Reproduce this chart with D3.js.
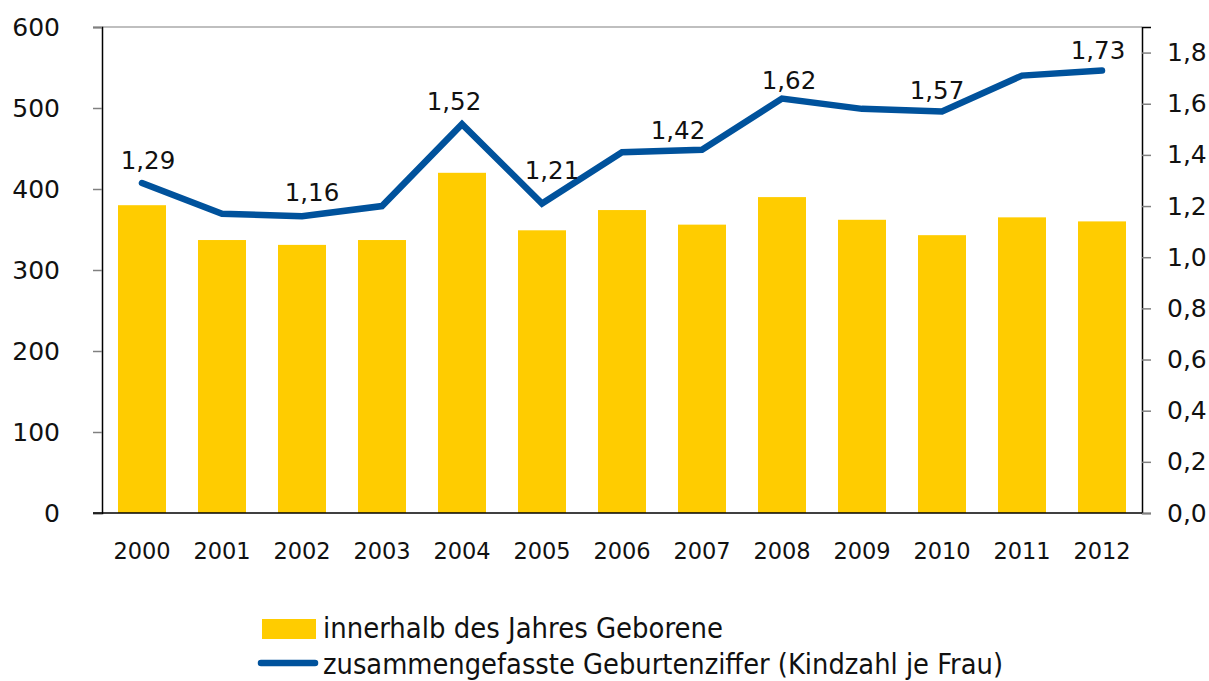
<!DOCTYPE html>
<html>
<head>
<meta charset="utf-8">
<script src="https://cdn.jsdelivr.net/npm/d3@7"></script>
<style>
  html, body { margin: 0; padding: 0; background: #fff; }
  svg { display: block; }
  text { font-family: "DejaVu Sans", sans-serif; fill: #111; }
</style>
</head>
<body>
<svg id="chart" width="1209" height="681"></svg>
<script>
// ---- data ----
const years = ["2000","2001","2002","2003","2004","2005","2006","2007","2008","2009","2010","2011","2012"];
const births = [380, 337, 331, 337, 420, 349, 374, 356, 390, 362, 343, 365, 360];
const fertility = [1.29, 1.17, 1.16, 1.20, 1.52, 1.21, 1.41, 1.42, 1.62, 1.58, 1.57, 1.71, 1.73];
const labelledYears = ["2000","2002","2004","2005","2007","2008","2010","2012"];
const leftTicks = [0, 100, 200, 300, 400, 500, 600];
const rightTicks = [0, 0.2, 0.4, 0.6, 0.8, 1.0, 1.2, 1.4, 1.6, 1.8];
const legendLabels = ["innerhalb des Jahres Geborene", "zusammengefasste Geburtenziffer (Kindzahl je Frau)"];

// ---- layout ----
const plot = { left: 102, right: 1142, top: 27, bottom: 513 };
const barColor = "#FFCC00", lineColor = "#00529C";

const svg = d3.select("#chart");

const x = d3.scaleBand().domain(years).range([plot.left, plot.right]).paddingInner(0.4).paddingOuter(0.2);
const yL = d3.scaleLinear().domain([0, 600]).range([plot.bottom, plot.top]);
const yR = d3.scaleLinear().domain([0, 1.9]).range([plot.bottom, plot.top]);

// top frame line
svg.append("line")
  .attr("x1", plot.left).attr("x2", plot.right)
  .attr("y1", plot.top).attr("y2", plot.top)
  .attr("stroke", "#808080").attr("stroke-width", 1.2);

// bars
svg.append("g").selectAll("rect").data(years).join("rect")
  .attr("x", d => x(d))
  .attr("width", x.bandwidth())
  .attr("y", (d, i) => yL(births[i]))
  .attr("height", (d, i) => yL(0) - yL(births[i]))
  .attr("fill", barColor);

// left axis
const gL = svg.append("g").attr("transform", `translate(${plot.left},0)`)
  .call(d3.axisLeft(yL).tickValues(leftTicks).tickSize(9).tickPadding(33).tickFormat(d3.format("d")));
gL.select(".domain").attr("stroke", "#000").attr("stroke-width", 1.5);
gL.selectAll(".tick line").attr("stroke", "#808080").attr("stroke-width", 1.5);
gL.selectAll(".tick text").attr("font-size", 25).attr("font-family", "DejaVu Sans").attr("fill", "#111");

// right axis
const gR = svg.append("g").attr("transform", `translate(${plot.right},0)`)
  .call(d3.axisRight(yR).tickValues(rightTicks).tickSize(9).tickPadding(16).tickFormat(d => d.toFixed(1).replace(".", ",")));
gR.select(".domain").attr("stroke", "#000").attr("stroke-width", 1.5);
gR.selectAll(".tick line").attr("stroke", "#808080").attr("stroke-width", 1.5);
gR.selectAll(".tick text").attr("font-size", 25).attr("font-family", "DejaVu Sans").attr("fill", "#111");

// bottom axis
const gB = svg.append("g").attr("transform", `translate(0,${plot.bottom})`)
  .call(d3.axisBottom(x).tickSize(0).tickPadding(30));
gB.select(".domain").remove();
gB.selectAll(".tick text").attr("font-size", 22.5).attr("font-family", "DejaVu Sans").attr("fill", "#111");
svg.append("line")
  .attr("x1", plot.left - 9).attr("x2", plot.right)
  .attr("y1", plot.bottom).attr("y2", plot.bottom)
  .attr("stroke", "#000").attr("stroke-width", 1.5);

// line
const cx = d => x(d) + x.bandwidth() / 2;
const line = d3.line().x((d, i) => cx(years[i])).y(d => yR(d));
svg.append("path")
  .datum(fertility)
  .attr("d", line)
  .attr("fill", "none")
  .attr("stroke", lineColor)
  .attr("stroke-width", 6.5)
  .attr("stroke-linejoin", "miter")
  .attr("stroke-linecap", "round");

// data labels
const labelOffset = { "2000": [6, -14], "2002": [10, -15], "2004": [-8, -14], "2005": [10, -24], "2007": [-24, -11], "2008": [7, -10], "2010": [-5, -12], "2012": [-4, -11] };
svg.append("g").selectAll("text").data(labelledYears).join("text")
  .attr("x", d => cx(d) + labelOffset[d][0])
  .attr("y", d => yR(fertility[years.indexOf(d)]) + labelOffset[d][1])
  .attr("text-anchor", "middle")
  .attr("font-size", 24.5)
  .text(d => fertility[years.indexOf(d)].toFixed(2).replace(".", ","));

// legend
const lg = svg.append("g");
lg.append("rect").attr("x", 262).attr("y", 619).attr("width", 54).attr("height", 20).attr("fill", barColor);
lg.append("line").attr("x1", 261).attr("x2", 315).attr("y1", 663).attr("y2", 663)
  .attr("stroke", lineColor).attr("stroke-width", 6.5).attr("stroke-linecap", "round");
lg.append("text").attr("x", 323).attr("y", 638).attr("font-size", 28)
  .attr("textLength", 400).attr("lengthAdjust", "spacingAndGlyphs").text(legendLabels[0]);
lg.append("text").attr("x", 323).attr("y", 674).attr("font-size", 28)
  .attr("textLength", 680).attr("lengthAdjust", "spacingAndGlyphs").text(legendLabels[1]);
</script>
</body>
</html>
